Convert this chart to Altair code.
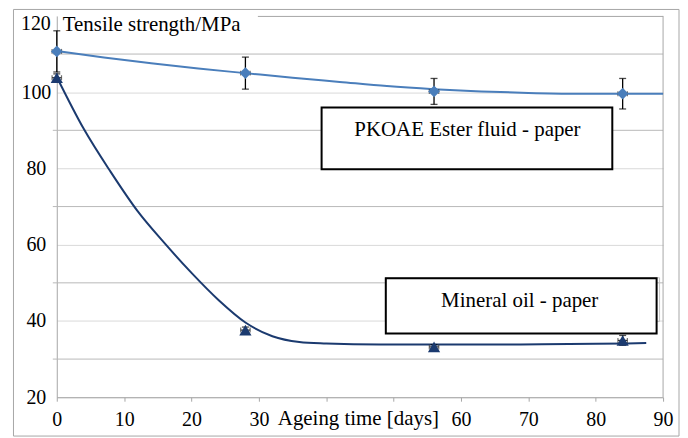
import altair as alt
import pandas as pd

# ---- data ----
days = [0, 28, 56, 84]
day_err = [0.7, 0.7, 0.7, 0.7]
ester_mean = [110.7, 105.0, 100.2, 99.6]
ester_err = [5.4, 4.2, 3.4, 4.0]
mineral_mean = [103.8, 37.6, 33.2, 34.9]
mineral_err = [1.0, 0.8, 0.6, 1.3]

ester_curve_days = [0, 7, 14, 21, 28, 35, 42, 49, 56, 63, 70, 77, 84, 90]
ester_curve_vals = [110.8, 109.1, 107.6, 106.2, 105.0, 103.8, 102.7, 101.6, 100.8, 100.2, 99.8, 99.6, 99.6, 99.6]
mineral_curve_days = [0, 4, 8, 12, 16, 20, 24, 28, 32, 36, 40, 48, 56, 64, 72, 80, 87.5]
mineral_curve_vals = [104.0, 90.4, 79.1, 68.8, 60.4, 52.6, 45.5, 39.6, 36.0, 34.5, 34.1, 33.8, 33.8, 33.8, 33.9, 34.0, 34.2]

series_names = ["PKOAE Ester fluid - paper", "Mineral oil - paper"]
series_colors = ["#4a7ebb", "#1b3a6f"]
x_ticks = [0, 10, 20, 30, 40, 50, 60, 70, 80, 90]
y_major = [20, 40, 60, 80, 100]
y_minor = [30, 50, 70, 90, 110]
y_top = [120]
y_title = "Tensile strength/MPa"
x_title = "Ageing time [days]"

# ---- tables ----
rows = []
for name, means, errs in [(series_names[0], ester_mean, ester_err),
                          (series_names[1], mineral_mean, mineral_err)]:
    for d, m, e, de in zip(days, means, errs, day_err):
        rows.append(dict(series=name, day=d, value=m, lo=m - e, hi=m + e, dlo=d - de, dhi=d + de))
pts = pd.DataFrame(rows)

crow = []
for name, ds, vs in [(series_names[0], ester_curve_days, ester_curve_vals),
                     (series_names[1], mineral_curve_days, mineral_curve_vals)]:
    for d, v in zip(ds, vs):
        crow.append(dict(series=name, day=d, value=v))
curves = pd.DataFrame(crow)

W, H = 609, 383
FONT = "Liberation Serif"
GRAY = "#a6a6a6"

xs = alt.Scale(domain=[0, 90], nice=False, zero=False)
ys = alt.Scale(domain=[20, 120], nice=False, zero=False)
x_axis = alt.Axis(values=x_ticks, title=None, grid=False, ticks=True, tickSize=4,
                  tickColor=GRAY, domainColor=GRAY, labelFont=FONT, labelFontSize=20,
                  labelColor="black", labelPadding=18, labelBaseline="middle",
                  labelFlush=False, labelOverlap=False,
                  labelExpr="(datum.value == 40 || datum.value == 50) ? '' : datum.label")
y_axis = alt.Axis(values=y_major, title=None, grid=True, gridColor="#d9d9d9", ticks=True,
                  tickSize=0, domainColor=GRAY, labelFont=FONT, labelFontSize=20,
                  labelColor="black", labelAlign="center", labelBaseline="middle",
                  labelPadding=21, labelFlush=False, labelOverlap=False)


def X(f):
    return alt.X(f, type="quantitative", scale=xs, axis=x_axis)


def Y(f):
    return alt.Y(f, type="quantitative", scale=ys, axis=y_axis)


color = alt.Color("series:N", scale=alt.Scale(domain=series_names, range=series_colors), legend=None)

minor = alt.Chart(pd.DataFrame({"v": y_minor})).mark_rule(color="#b8b8b8", strokeWidth=1).encode(
    y=Y("v"), x=alt.value(-4), x2=alt.value(W))

one = pd.DataFrame({"a": [0]})
top_border = alt.Chart(one).mark_rule(color=GRAY, strokeWidth=1).encode(
    x=alt.value(202), x2=alt.value(W), y=alt.value(0.5))
right_border = alt.Chart(one).mark_rule(color=GRAY, strokeWidth=1).encode(
    x=alt.value(W), y=alt.value(0), y2=alt.value(H))
outer = alt.Chart(one).mark_rect(fillOpacity=0, stroke=GRAY, strokeWidth=1).encode(
    x=alt.value(-43.5), x2=alt.value(625), y=alt.value(-6.5), y2=alt.value(422))

lines = alt.Chart(curves).mark_line(interpolate="monotone", strokeWidth=2).encode(
    x=X("day"), y=Y("value"), color=color, detail="series:N")

ebase = alt.Chart(pts)
vbar = ebase.mark_rule(color="black", strokeWidth=1.3).encode(x=X("day"), y=Y("lo"), y2="hi")
hbar = ebase.mark_rule(color="#333333", strokeWidth=1.2).encode(x=X("dlo"), x2="dhi", y=Y("value"))
cap_hi = ebase.mark_tick(orient="horizontal", size=7, thickness=1.3, color="black").encode(x=X("day"), y=Y("hi"))
cap_lo = ebase.mark_tick(orient="horizontal", size=7, thickness=1.3, color="black").encode(x=X("day"), y=Y("lo"))
cap_l = ebase.mark_tick(orient="vertical", size=5, thickness=1.2, color="#333333").encode(x=X("dlo"), y=Y("value"))
cap_r = ebase.mark_tick(orient="vertical", size=5, thickness=1.2, color="#333333").encode(x=X("dhi"), y=Y("value"))

ester_pts = ebase.transform_filter(alt.datum.series == series_names[0]).mark_point(
    shape="diamond", filled=True, opacity=1, size=140, color=series_colors[0]).encode(x=X("day"), y=Y("value"))
mineral_pts = ebase.transform_filter(alt.datum.series == series_names[1]).mark_point(
    shape="triangle-up", filled=True, opacity=1, size=150, color=series_colors[1]).encode(x=X("day"), y=Y("value"))

back_box = alt.Chart(one).mark_rect(fillOpacity=0, stroke="#c8c8c8", strokeWidth=1).encode(
    x=alt.value(330), x2=alt.value(605.5), y=alt.value(263), y2=alt.value(307))
box1 = alt.Chart(one).mark_rect(fill="white", stroke="black", strokeWidth=2).encode(
    x=alt.value(266), x2=alt.value(558), y=alt.value(92), y2=alt.value(154))
box2 = alt.Chart(one).mark_rect(fill="white", stroke="black", strokeWidth=2).encode(
    x=alt.value(330.5), x2=alt.value(602.5), y=alt.value(263.5), y2=alt.value(319))


def txt(s, x, y, align="center", size=21):
    return alt.Chart(one).mark_text(font=FONT, fontSize=size, align=align, baseline="middle").encode(
        x=alt.value(x), y=alt.value(y), text=alt.value(s))


t1 = txt(series_names[0], 412.5, 115)
t2 = txt(series_names[1], 465, 286.5)
t_y = txt(y_title, 6, 9, align="left")
t_x = txt(x_title, 303, 404.5)
t_120 = alt.Chart(pd.DataFrame({"v": y_top})).mark_text(
    font=FONT, fontSize=20, align="center", baseline="middle", dy=8).encode(
    x=alt.value(-21), y=Y("v"), text=alt.Text("v:Q"))

chart = alt.layer(
    minor, top_border, right_border, outer, lines,
    vbar, hbar, cap_hi, cap_lo, cap_l, cap_r, ester_pts, mineral_pts,
    back_box, box1, box2, t1, t2, t_y, t_x, t_120
).properties(
    width=W, height=H,
    padding={"left": 5, "top": 0, "right": 0, "bottom": 0},
).configure_view(stroke=None)

chart.save("out.html", embed_options={"renderer": "svg", "actions": False})
